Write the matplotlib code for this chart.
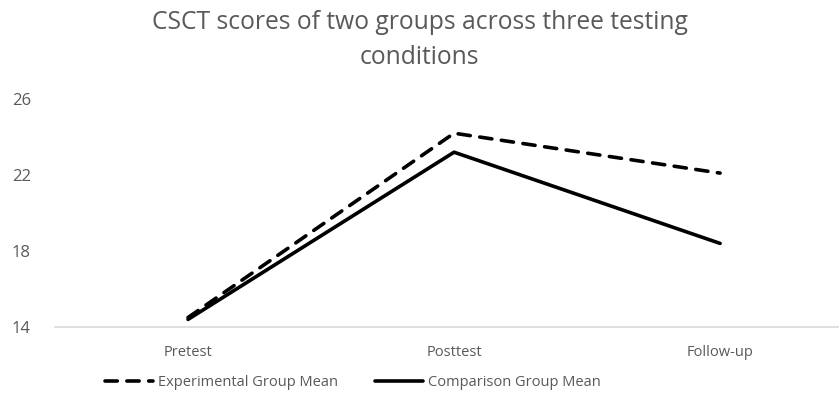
import matplotlib.pyplot as plt

# data
conditions = ['Pretest', 'Posttest', 'Follow-up']
experimental = [14.5, 24.2, 22.1]
comparison = [14.4, 23.2, 18.4]
yticks = [14, 18, 22, 26]

plt.rcParams['font.family'] = ['Open Sans', 'DejaVu Sans']
grey = '#595959'

fig = plt.figure(figsize=(8.39, 4.0), dpi=100)
ax = fig.add_axes([0.0656, 0.1825, 0.9344, 0.57])

x = range(len(conditions))
ax.plot(x, experimental, color='black', lw=2.6, linestyle=(0, (3.4, 2.65)),
        dash_capstyle='round', solid_capstyle='round', label='Experimental Group Mean')
ax.plot(x, comparison, color='black', lw=2.6, solid_capstyle='round',
        label='Comparison Group Mean')

ax.set_xlim(-0.5, 2.447)
ax.set_ylim(14, 26)
ax.set_yticks(yticks)
ax.set_xticks(list(x))
ax.set_xticklabels(conditions)

for s in ['top', 'right', 'left']:
    ax.spines[s].set_visible(False)
ax.spines['bottom'].set_color('#d9d9d9')
ax.spines['bottom'].set_linewidth(1.2)
ax.tick_params(axis='both', length=0, colors=grey, labelsize=10.5)
ax.tick_params(axis='x', pad=13)
ax.tick_params(axis='y', pad=31, labelsize=12)
for lab in ax.get_yticklabels():
    lab.set_horizontalalignment('left')

fig.suptitle('CSCT scores of two groups across three testing\nconditions',
             x=0.5, y=0.975, color=grey, fontsize=17.7, linespacing=1.5)

fig.legend(loc='center left', bbox_to_anchor=(0.118, 0.0425), ncol=2, frameon=False,
           handlelength=3.3, handletextpad=0.35, columnspacing=2.5,
           borderaxespad=0, fontsize=10.5, labelcolor=grey)

fig.savefig('out.png', dpi=100)
